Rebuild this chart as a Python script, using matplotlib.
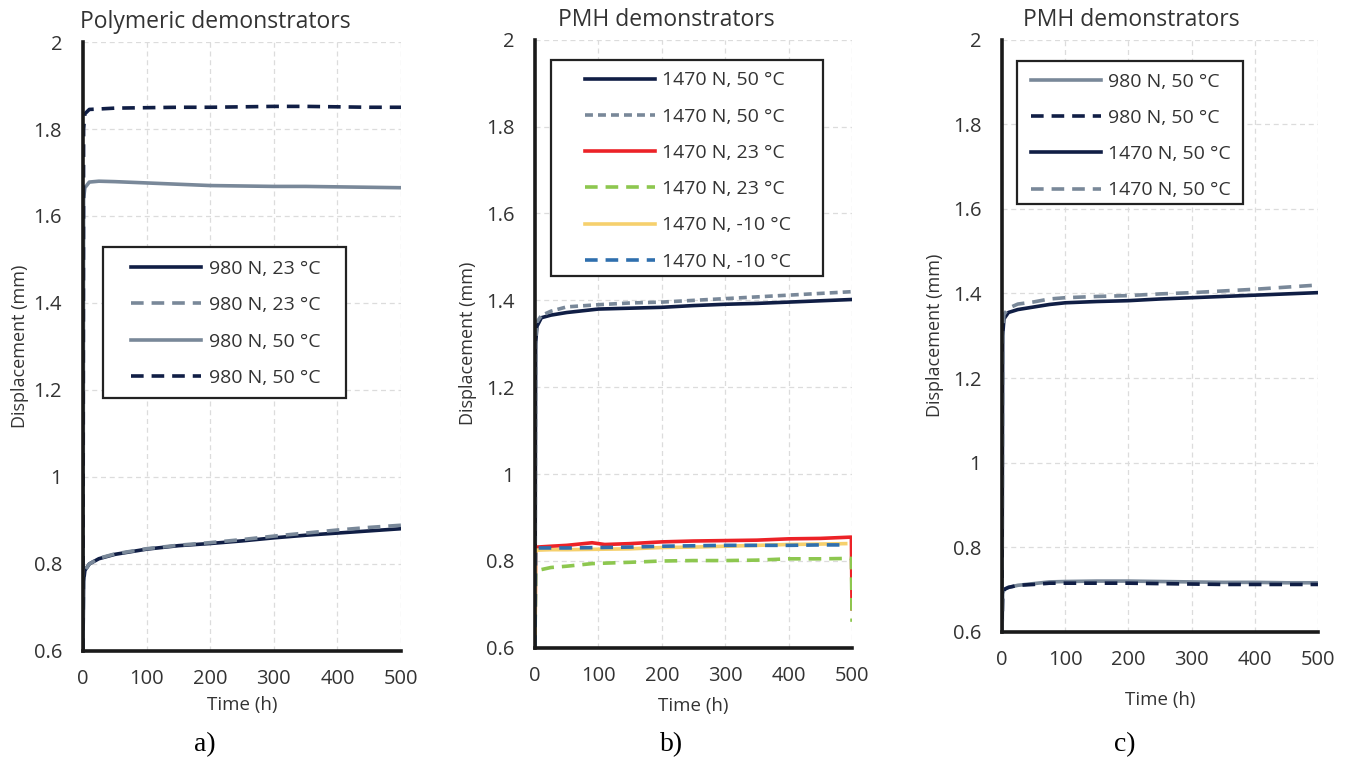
import numpy as np
import matplotlib.pyplot as plt
from matplotlib.patches import Rectangle

# colours
NAVY = '#101e45'
GREY = '#798899'
RED = '#ec2227'
GREEN = '#8dc74f'
YELLOW = '#f6d06d'
BLUE = '#2f6fae'

# panel a - polymeric demonstrators
t_a = [0, 1, 3, 10, 25, 50, 100, 150, 200, 250, 300, 350, 400, 450, 500]
a_980_23 = [0.6, 0.76, 0.785, 0.80, 0.812, 0.822, 0.834, 0.842, 0.847, 0.853, 0.86, 0.866, 0.871, 0.876, 0.881]
a_980_23d = [0.6, 0.77, 0.785, 0.80, 0.813, 0.823, 0.835, 0.843, 0.849, 0.856, 0.864, 0.871, 0.878, 0.884, 0.889]
a_980_50 = [0.6, 1.64, 1.665, 1.678, 1.68, 1.679, 1.676, 1.673, 1.67, 1.669, 1.668, 1.668, 1.667, 1.666, 1.665]
a_980_50d = [0.6, 1.80, 1.835, 1.845, 1.846, 1.848, 1.849, 1.85, 1.85, 1.851, 1.852, 1.852, 1.851, 1.85, 1.85]

# panel b - PMH demonstrators
t_b = [0, 1, 3, 10, 25, 50, 100, 150, 200, 250, 300, 350, 400, 450, 500]
b_1470_50 = [0.6, 1.30, 1.34, 1.36, 1.366, 1.372, 1.38, 1.382, 1.384, 1.388, 1.391, 1.393, 1.396, 1.399, 1.402]
b_1470_50d = [0.6, 1.31, 1.35, 1.365, 1.375, 1.385, 1.39, 1.394, 1.396, 1.40, 1.404, 1.408, 1.412, 1.416, 1.42]
t_b2 = [0, 1, 3, 25, 50, 90, 110, 150, 200, 250, 300, 350, 400, 450, 499, 500]
b_1470_23 = [0.6, 0.83, 0.832, 0.834, 0.836, 0.842, 0.838, 0.84, 0.844, 0.846, 0.847, 0.848, 0.851, 0.852, 0.855, 0.69]
b_1470_23d = [0.6, 0.772, 0.778, 0.785, 0.788, 0.794, 0.795, 0.797, 0.80, 0.801, 0.801, 0.802, 0.805, 0.805, 0.806, 0.66]
t_b3 = [0, 1, 3, 25, 50, 100, 150, 200, 250, 300, 350, 400, 450, 490]
b_1470_m10 = [0.6, 0.825, 0.825, 0.826, 0.826, 0.827, 0.828, 0.831, 0.832, 0.834, 0.836, 0.838, 0.839, 0.84]
b_1470_m10d = [0.6, 0.83, 0.83, 0.83, 0.83, 0.831, 0.832, 0.834, 0.835, 0.836, 0.836, 0.836, 0.837, 0.837]

# panel c - PMH demonstrators
t_c = [0, 1, 3, 10, 25, 50, 75, 100, 150, 200, 250, 300, 350, 400, 450, 500]
c_980_50 = [0.6, 0.69, 0.70, 0.705, 0.71, 0.714, 0.718, 0.719, 0.72, 0.72, 0.719, 0.718, 0.717, 0.717, 0.716, 0.716]
c_980_50d = [0.6, 0.69, 0.70, 0.705, 0.71, 0.712, 0.715, 0.715, 0.715, 0.715, 0.714, 0.713, 0.712, 0.712, 0.712, 0.712]
c_1470_50 = [0.6, 1.30, 1.34, 1.355, 1.362, 1.368, 1.374, 1.378, 1.381, 1.383, 1.387, 1.390, 1.393, 1.396, 1.399, 1.402]
c_1470_50d = [0.6, 1.31, 1.35, 1.365, 1.375, 1.38, 1.387, 1.39, 1.393, 1.395, 1.399, 1.402, 1.406, 1.410, 1.415, 1.42]

xticks = [0, 100, 200, 300, 400, 500]
yticks = [0.6, 0.8, 1.0, 1.2, 1.4, 1.6, 1.8, 2.0]
ytick_labels = ['0.6', '0.8', '1', '1.2', '1.4', '1.6', '1.8', '2']

plt.rcParams['font.family'] = ['Open Sans', 'DejaVu Sans']
fig = plt.figure(figsize=(13.49, 7.64), dpi=100)

ax_a = fig.add_axes([0.0615, 0.148, 0.2358, 0.797])
ax_b = fig.add_axes([0.3966, 0.152, 0.235, 0.796])
ax_c = fig.add_axes([0.7428, 0.173, 0.2342, 0.775])

lw = 2.6
dash = (0, (3.5, 2.2))
sdash = (0, (2.2, 1.4))

ax_a.plot(t_a, a_980_23, color=NAVY, lw=lw, label='980 N, 23 °C')
ax_a.plot(t_a, a_980_23d, color=GREY, lw=lw, ls=dash, label='980 N, 23 °C')
ax_a.plot(t_a, a_980_50, color=GREY, lw=lw, label='980 N, 50 °C')
ax_a.plot(t_a, a_980_50d, color=NAVY, lw=lw, ls=dash, label='980 N, 50 °C')

ax_b.plot(t_b, b_1470_50, color=NAVY, lw=lw, label='1470 N, 50 °C')
ax_b.plot(t_b, b_1470_50d, color=GREY, lw=lw, ls=sdash, label='1470 N, 50 °C')
ax_b.plot(t_b2, b_1470_23, color=RED, lw=lw, label='1470 N, 23 °C')
ax_b.plot(t_b2, b_1470_23d, color=GREEN, lw=lw, ls=dash, label='1470 N, 23 °C')
ax_b.plot(t_b3, b_1470_m10, color=YELLOW, lw=lw, label='1470 N, -10 °C')
ax_b.plot(t_b3, b_1470_m10d, color=BLUE, lw=lw, ls=dash, label='1470 N, -10 °C')

ax_c.plot(t_c, c_980_50, color=GREY, lw=lw, label='980 N, 50 °C')
ax_c.plot(t_c, c_980_50d, color=NAVY, lw=lw, ls=dash, label='980 N, 50 °C')
ax_c.plot(t_c, c_1470_50, color=NAVY, lw=lw, label='1470 N, 50 °C')
ax_c.plot(t_c, c_1470_50d, color=GREY, lw=lw, ls=dash, label='1470 N, 50 °C')

titles = ['Polymeric demonstrators', 'PMH demonstrators', 'PMH demonstrators']
title_x = [0.415, 0.413, 0.408]
tags = ['a)', 'b)', 'c)']
tag_x = [205, 672, 1125]
# legend entries anchor and the (wider) legend box, in axes fractions
legend_anchor = [(0.12, 0.658), (0.126, 0.964), (0.060, 0.961)]
legend_box = [(0.0629, 0.4154, 0.764, 0.248),
              (0.0505, 0.612, 0.858, 0.355),
              (0.0475, 0.723, 0.715, 0.2416)]
xlabel_pad = [5, 8, 15]
ylabel_pad = [3, 6, 6]

for i, ax in enumerate([ax_a, ax_b, ax_c]):
    ax.set_xlim(0, 500)
    ax.set_ylim(0.6, 2.0)
    ax.set_xticks(xticks)
    ax.set_yticks(yticks)
    ax.set_yticklabels(ytick_labels)
    ax.tick_params(length=0, labelsize=14.5, colors='#333333')
    ax.tick_params(axis='y', pad=15)
    ax.tick_params(axis='x', pad=13)
    ax.grid(True, color='#dcdcdc', ls=(0, (4, 3)), lw=0.9)
    ax.set_axisbelow(True)
    for s in ['top', 'right']:
        ax.spines[s].set_visible(False)
    for s in ['left', 'bottom']:
        ax.spines[s].set_linewidth(2.6)
        ax.spines[s].set_color('#1a1a1a')
    ax.set_title(titles[i], fontsize=16.5, color='#333333', pad=10, x=title_x[i])
    ax.set_xlabel('Time (h)', fontsize=13.5, color='#333333', labelpad=xlabel_pad[i])
    ax.set_ylabel('Displacement (mm)', fontsize=13, color='#333333', labelpad=ylabel_pad[i])
    bx, by, bw, bh = legend_box[i]
    ax.add_patch(Rectangle((bx, by), bw, bh, transform=ax.transAxes, facecolor='white',
                           edgecolor='#222222', lw=1.6, zorder=4.5))
    leg = ax.legend(loc='upper left', bbox_to_anchor=legend_anchor[i], fontsize=14,
                    handlelength=3.6, labelspacing=0.94, borderpad=0.5, frameon=False,
                    handletextpad=0.4, labelcolor='#333333', borderaxespad=0)
    leg.set_zorder(5)
    fig.text(tag_x[i] / 1349, 1 - 745 / 764, tags[i], ha='center', va='center',
             fontsize=20, family='Liberation Serif')

fig.savefig('out.png', dpi=100)
